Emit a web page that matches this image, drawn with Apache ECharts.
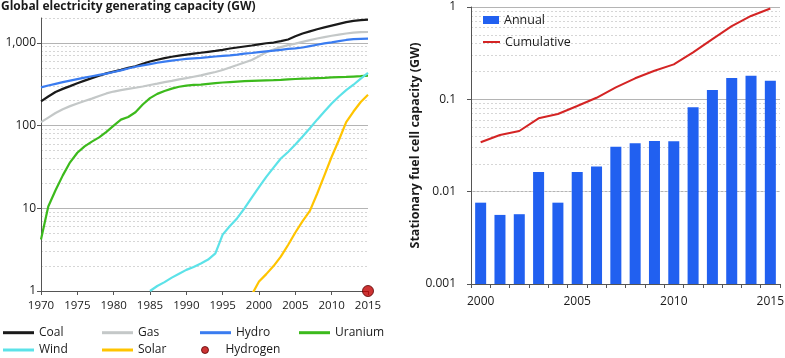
<!DOCTYPE html>
<html><head><meta charset="utf-8">
<script src="https://cdn.jsdelivr.net/npm/echarts@6/dist/echarts.min.js"></script>
<style>html,body{margin:0;padding:0;background:#fff}#c{width:785px;height:358px}</style>
</head><body><div id="c"></div>
<script>
// ---------- Left chart data (GW) ----------
const years = [1970,1971,1972,1973,1974,1975,1976,1977,1978,1979,
  1980,1981,1982,1983,1984,1985,1986,1987,1988,1989,
  1990,1991,1992,1993,1994,1995,1996,1997,1998,1999,
  2000,2001,2002,2003,2004,2005,2006,2007,2008,2009,
  2010,2011,2012,2013,2014,2015];
const coal = [196,225,255,278,300,325,350,375,400,428,
  450,472,498,522,558,595,625,655,680,700,
  720,740,760,780,800,825,855,880,905,930,
  960,990,1010,1050,1100,1200,1300,1380,1460,1540,
  1620,1700,1780,1850,1890,1910];
const gas = [110,125,142,158,172,185,198,212,228,245,
  258,268,278,287,297,310,322,335,348,362,
  375,390,405,425,445,470,505,540,580,620,
  690,770,830,890,940,980,1030,1080,1130,1175,
  1220,1260,1300,1330,1350,1355];
const hydro = [290,305,320,335,350,365,380,395,410,425,
  445,465,490,515,535,555,575,595,610,625,
  640,650,660,672,685,695,705,720,740,755,
  775,790,805,825,845,860,880,915,950,985,
  1015,1050,1085,1110,1120,1125];
const uranium = [4.2,10.5,16.5,25,36,47,56,64,72,84,
  100,118,127,145,180,215,242,262,280,295,
  305,310,313,320,326,332,336,340,344,347,
  350,353,355,358,362,366,370,372,375,378,
  383,386,388,392,396,401];
const wind = [null,null,null,null,null,null,null,null,null,null,
  null,null,null,null,null,1.0,1.15,1.28,1.45,1.62,
  1.8,1.95,2.15,2.4,2.85,4.8,6.1,7.6,10,13.5,
  18,24,31,40,48,59,74,93,118,148,
  185,225,268,312,370,433];
const solar = [null,null,null,null,null,null,null,null,null,null,
  null,null,null,null,null,null,null,null,null,null,
  null,null,null,null,null,null,null,null,null,0.9,
  1.3,1.6,2.0,2.6,3.6,5.1,7.0,9.3,15,25,
  42,67,110,148,193,236];
const hydrogenYear = 2015;
const hydrogenValue = 1;
const leftTickYears = [1970,1975,1980,1985,1990,1995,2000,2005,2010,2015];

// ---------- Right chart data (GW) ----------
const fcYears = ['2000','2001','2002','2003','2004','2005','2006','2007',
  '2008','2009','2010','2011','2012','2013','2014','2015'];
const annual = [0.0076,0.0056,0.0057,0.0163,0.0076,0.0163,0.0187,0.0307,
  0.0334,0.0354,0.0351,0.082,0.126,0.170,0.180,0.159];
const cumulative = [0.0343,0.0411,0.0454,0.0623,0.0694,0.0847,0.104,0.135,
  0.169,0.204,0.239,0.322,0.449,0.621,0.80,0.964];

const FONT = 'Open Sans';
const BAR_COLOR = '#2160f0';
const RIGHT_MIN = 0.001;
function pairs(vals){ const out=[]; vals.forEach((v,i)=>{ if(v!=null) out.push([years[i], v]); }); return out; }
function minorLines(minExp, maxVal){
  const out=[];
  for(let e=minExp;e<=4;e++){ const d=Math.pow(10,e);
    for(let m=2;m<=9;m++){ const v=+(m*d).toPrecision(3); if(v<=maxVal*1.0001) out.push({yAxis:v}); } }
  return out;
}
function isDecade(v){ const l=Math.log10(v); return Math.abs(l-Math.round(l))<1e-6; }

const minorStyle = {color:'#d6d6d6', width:1, type:[2,2]};
function minorMark(minExp, maxVal){
  return {silent:true, symbol:'none', label:{show:false}, animation:false, z:0, zlevel:0,
    lineStyle:minorStyle, emphasis:{disabled:true}, data:minorLines(minExp,maxVal)};
}

const lineSeries = [
  ['Coal', coal, '#1a1a1a'],
  ['Gas', gas, '#c4c8c8'],
  ['Hydro', hydro, '#3a7cf0'],
  ['Uranium', uranium, '#3cba1c'],
  ['Wind', wind, '#5ce2e8'],
  ['Solar', solar, '#ffc400']
];

const series = [
  {name:'_minorLeft', type:'line', xAxisIndex:0, yAxisIndex:0, data:[], z:0,
    markLine:minorMark(0,2000)},
  {name:'_minorRight', type:'line', xAxisIndex:1, yAxisIndex:1, data:[], z:0,
    markLine:minorMark(-3,1)}
];
lineSeries.forEach(s=>series.push({
  name:s[0], type:'line', xAxisIndex:0, yAxisIndex:0, data:pairs(s[1]),
  showSymbol:false, symbol:'none', clip:true,
  lineStyle:{color:s[2], width:2.2}, itemStyle:{color:s[2]},
  animation:false, z:3
}));
series.push({
  name:'Hydrogen', type:'scatter', xAxisIndex:0, yAxisIndex:0,
  data:[[hydrogenYear, hydrogenValue]], symbol:'circle', symbolSize:11,
  itemStyle:{color:'#c00000', borderColor:'#5a0000', borderWidth:1},
  clip:false, animation:false, z:5
});
series.push({
  name:'Annual', type:'custom', xAxisIndex:1, yAxisIndex:1,
  data:annual.map((v,i)=>[i, v]), encode:{x:0, y:1},
  itemStyle:{color:BAR_COLOR}, animation:false, z:6,
  renderItem:(params, api)=>{
    const top = api.coord([api.value(0), api.value(1)]);
    const base = api.coord([api.value(0), RIGHT_MIN]);
    const w = api.size([1, 0])[0]*0.57;
    return {type:'rect', shape:{x:top[0]-w/2, y:top[1], width:w, height:base[1]-top[1]},
      style:{fill:BAR_COLOR}};
  }
});
series.push({
  name:'Cumulative', type:'line', xAxisIndex:1, yAxisIndex:1, data:cumulative,
  showSymbol:false, symbol:'none', lineStyle:{color:'#d42424', width:2},
  itemStyle:{color:'#d42424'}, animation:false, z:7
});

const legendPos = [
  ['Coal',3,325.7],['Gas',102,325.7],['Hydro',200,325.7],['Uranium',299,325.7],
  ['Wind',3,343],['Solar',102,343]
];
const legends = legendPos.map((p,i)=>({
  data:[{name:p[0], icon:'rect', itemStyle:{color:lineSeries[i][2]}}],
  left:p[1], top:p[2], padding:0, itemGap:0,
  itemWidth:31, itemHeight:3, selectedMode:false,
  textStyle:{fontFamily:FONT, fontSize:12, color:'#1a1a1a', lineHeight:14}
}));
legends.push({data:[{name:'Hydrogen', icon:'circle'}], left:201, top:343, padding:0,
  itemWidth:31, itemHeight:7, selectedMode:false,
  itemStyle:{color:'#c00000', borderColor:'#5a0000', borderWidth:1},
  textStyle:{fontFamily:FONT, fontSize:12, color:'#1a1a1a', lineHeight:14}});
legends.push({data:[{name:'Annual', icon:'rect', itemStyle:{color:BAR_COLOR}}], left:483, top:12, padding:0,
  itemWidth:16, itemHeight:8, selectedMode:false,
  textStyle:{fontFamily:FONT, fontSize:12.5, color:'#1a1a1a', lineHeight:16}});
legends.push({data:[{name:'Cumulative', icon:'rect', itemStyle:{color:'#d42424'}}], left:483, top:34, padding:0,
  itemWidth:17, itemHeight:2, selectedMode:false,
  textStyle:{fontFamily:FONT, fontSize:12.5, color:'#1a1a1a', lineHeight:16}});

const option = {
  backgroundColor:'#ffffff',
  animation:false,
  title:{text:'Global electricity generating capacity (GW)', left:1, top:1, padding:0,
    textStyle:{fontFamily:FONT, fontSize:12, fontWeight:'bold', color:'#1a1a1a'}},
  legend:legends,
  grid:[
    {left:41, right:417, top:18, bottom:67, outerBoundsMode:'none'},
    {left:471, right:5, top:7, bottom:74, outerBoundsMode:'none'}
  ],
  xAxis:[
    {type:'value', gridIndex:0, min:1970, max:2015, interval:5,
      axisLine:{show:true, lineStyle:{color:'#555', width:1}},
      axisTick:{show:true, length:4, lineStyle:{color:'#555'}},
      splitLine:{show:false},
      axisLabel:{fontFamily:FONT, fontSize:11.5, color:'#1a1a1a', margin:9,
        formatter:v=>leftTickYears.includes(v)?String(v):''}},
    {type:'category', gridIndex:1, data:fcYears, boundaryGap:true,
      axisLine:{show:true, lineStyle:{color:'#555', width:1}},
      axisTick:{show:true, length:4, interval:0, lineStyle:{color:'#555'}},
      splitLine:{show:false},
      axisLabel:{fontFamily:FONT, fontSize:12, color:'#1a1a1a', margin:12, interval:4}}
  ],
  yAxis:[
    {type:'log', logBase:10, gridIndex:0, min:1, max:2000,
      axisLine:{show:true, lineStyle:{color:'#555', width:1}},
      axisTick:{show:true, length:4, lineStyle:{color:'#555'}},
      minorTick:{show:false}, minorSplitLine:{show:false},
      splitLine:{show:true, showMaxLine:false, lineStyle:{color:'#b4b4b4', width:1.2}},
      axisLabel:{fontFamily:FONT, fontSize:12, color:'#1a1a1a', margin:5, showMaxLabel:false,
        formatter:v=>isDecade(v)?Math.round(v).toLocaleString('en-US'):''}},
    {type:'log', logBase:10, gridIndex:1, min:RIGHT_MIN, max:1,
      name:'Stationary fuel cell capacity (GW)', nameLocation:'middle', nameRotate:90, nameGap:46,
      nameTextStyle:{fontFamily:FONT, fontSize:12.5, fontWeight:'bold', color:'#1a1a1a'},
      axisLine:{show:true, lineStyle:{color:'#555', width:1}},
      axisTick:{show:true, length:4, lineStyle:{color:'#555'}},
      splitLine:{show:true, lineStyle:{color:'#b4b4b4', width:1.2}},
      axisLabel:{fontFamily:FONT, fontSize:12, color:'#1a1a1a', margin:15,
        formatter:v=>isDecade(v)?String(+v.toPrecision(1)):''}}
  ],
  series:series
};
const chart = echarts.init(document.getElementById('c'), null, {renderer:'canvas'});
chart.setOption(option);
</script>
</body></html>
